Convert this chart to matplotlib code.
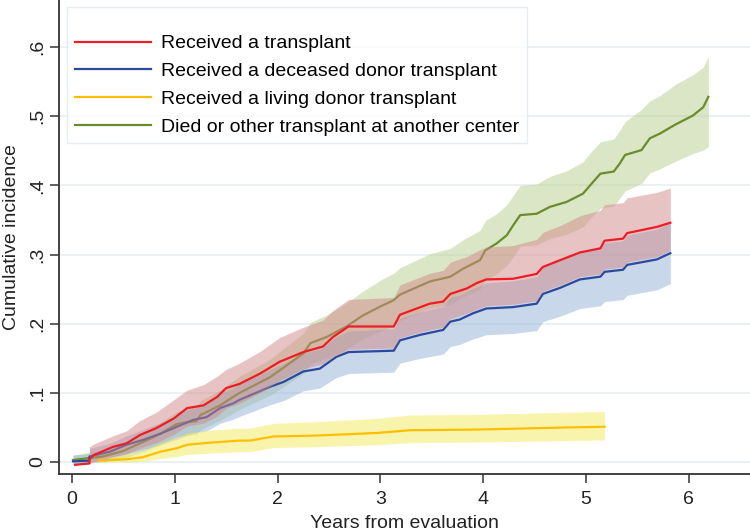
import matplotlib
matplotlib.use("Agg")
import matplotlib.pyplot as plt

# Cumulative incidence curves (years, proportion)
red_x = [0.03, 0.17, 0.17, 0.21, 0.40, 0.53, 0.66, 0.82, 0.99, 1.12, 1.28, 1.41, 1.50,
         1.63, 1.83, 2.02, 2.25, 2.44, 2.54, 2.69, 3.13, 3.19, 3.48, 3.61, 3.68, 3.84,
         3.94, 4.03, 4.29, 4.52, 4.58, 4.75, 4.94, 5.14, 5.18, 5.36, 5.40, 5.69, 5.82]
red_y = [-0.004, -0.002, 0.004, 0.010, 0.022, 0.027, 0.039, 0.049, 0.063, 0.078, 0.082,
         0.094, 0.107, 0.113, 0.128, 0.145, 0.159, 0.167, 0.181, 0.196, 0.196, 0.213,
         0.229, 0.232, 0.243, 0.251, 0.259, 0.264, 0.265, 0.272, 0.282, 0.292, 0.303,
         0.309, 0.320, 0.323, 0.331, 0.340, 0.346]
red_lo = [-0.004, -0.002, -0.002, 0.000, 0.008, 0.012, 0.020, 0.028, 0.040, 0.052, 0.056,
          0.066, 0.078, 0.085, 0.100, 0.118, 0.135, 0.142, 0.152, 0.163, 0.165, 0.180,
          0.191, 0.195, 0.207, 0.215, 0.221, 0.226, 0.228, 0.233, 0.247, 0.256, 0.268,
          0.272, 0.279, 0.282, 0.289, 0.297, 0.306]
red_hi = [-0.004, -0.002, 0.022, 0.026, 0.038, 0.045, 0.060, 0.072, 0.090, 0.104, 0.112,
          0.124, 0.134, 0.143, 0.160, 0.180, 0.195, 0.205, 0.219, 0.235, 0.238, 0.256,
          0.273, 0.277, 0.289, 0.297, 0.305, 0.311, 0.313, 0.322, 0.332, 0.342, 0.356,
          0.364, 0.372, 0.375, 0.382, 0.390, 0.396]

blue_x = [0.01, 0.17, 0.17, 0.37, 0.53, 0.69, 0.86, 1.02, 1.18, 1.31, 1.44, 1.57, 1.63,
          1.93, 2.06, 2.25, 2.41, 2.57, 2.69, 3.13, 3.19, 3.39, 3.61, 3.68, 3.77, 3.90,
          4.03, 4.29, 4.52, 4.58, 4.75, 4.94, 5.14, 5.18, 5.36, 5.40, 5.69, 5.82]
blue_y = [0.001, 0.002, 0.008, 0.015, 0.025, 0.032, 0.041, 0.051, 0.061, 0.065, 0.078,
          0.085, 0.090, 0.109, 0.116, 0.131, 0.135, 0.152, 0.159, 0.161, 0.176, 0.184,
          0.191, 0.203, 0.206, 0.215, 0.222, 0.224, 0.229, 0.243, 0.252, 0.264, 0.268,
          0.275, 0.278, 0.285, 0.293, 0.302]
blue_lo = [-0.003, -0.003, 0.000, 0.005, 0.012, 0.018, 0.025, 0.033, 0.042, 0.045, 0.056,
           0.062, 0.066, 0.083, 0.089, 0.103, 0.107, 0.122, 0.128, 0.130, 0.143, 0.150,
           0.156, 0.167, 0.170, 0.178, 0.184, 0.186, 0.190, 0.203, 0.211, 0.222, 0.226,
           0.232, 0.235, 0.241, 0.249, 0.258]
blue_hi = [0.010, 0.012, 0.020, 0.027, 0.038, 0.047, 0.057, 0.068, 0.080, 0.085, 0.099,
           0.107, 0.113, 0.134, 0.142, 0.158, 0.163, 0.181, 0.189, 0.193, 0.208, 0.217,
           0.225, 0.238, 0.241, 0.251, 0.259, 0.262, 0.268, 0.282, 0.292, 0.305, 0.310,
           0.317, 0.320, 0.328, 0.337, 0.346]

yel_x = [0.26, 0.53, 0.69, 0.86, 1.02, 1.12, 1.34, 1.63, 1.73, 1.96, 2.32, 2.96, 3.29,
         3.94, 4.81, 5.18]
yel_y = [0.002, 0.004, 0.007, 0.015, 0.020, 0.025, 0.028, 0.031, 0.031, 0.037, 0.038,
         0.042, 0.046, 0.047, 0.050, 0.051]
yel_lo = [0.000, 0.000, 0.001, 0.005, 0.008, 0.011, 0.013, 0.015, 0.015, 0.021, 0.022,
          0.025, 0.028, 0.029, 0.031, 0.032]
yel_hi = [0.006, 0.011, 0.016, 0.028, 0.036, 0.042, 0.046, 0.049, 0.049, 0.056, 0.058,
          0.063, 0.068, 0.069, 0.072, 0.073]

grn_x = [0.01, 0.30, 0.50, 0.69, 0.85, 0.95, 1.02, 1.13, 1.21, 1.25, 1.44, 1.63, 1.93,
         2.09, 2.25, 2.32, 2.48, 2.67, 2.83, 3.00, 3.13, 3.19, 3.48, 3.68, 3.81, 3.97,
         4.02, 4.13, 4.23, 4.29, 4.36, 4.52, 4.65, 4.81, 4.97, 5.04, 5.14, 5.27, 5.33,
         5.38, 5.54, 5.62, 5.72, 5.87, 6.04, 6.14, 6.19]
grn_y = [0.003, 0.008, 0.016, 0.029, 0.040, 0.049, 0.055, 0.058, 0.059, 0.068, 0.082,
         0.100, 0.123, 0.140, 0.157, 0.172, 0.181, 0.196, 0.212, 0.225, 0.234, 0.242,
         0.261, 0.268, 0.280, 0.292, 0.306, 0.316, 0.328, 0.342, 0.357, 0.359, 0.369,
         0.376, 0.388, 0.400, 0.417, 0.420, 0.432, 0.444, 0.451, 0.468, 0.475, 0.488,
         0.501, 0.513, 0.528]
grn_lo = [-0.003, 0.000, 0.005, 0.015, 0.024, 0.032, 0.037, 0.039, 0.040, 0.047, 0.060,
          0.076, 0.097, 0.112, 0.128, 0.142, 0.150, 0.163, 0.178, 0.189, 0.197, 0.204,
          0.222, 0.228, 0.239, 0.250, 0.263, 0.272, 0.284, 0.296, 0.312, 0.314, 0.323,
          0.329, 0.340, 0.352, 0.367, 0.370, 0.382, 0.392, 0.403, 0.418, 0.424, 0.435,
          0.446, 0.451, 0.456]
grn_hi = [0.010, 0.018, 0.028, 0.043, 0.056, 0.066, 0.073, 0.077, 0.079, 0.089, 0.104,
          0.124, 0.149, 0.168, 0.186, 0.202, 0.213, 0.230, 0.247, 0.263, 0.273, 0.281,
          0.301, 0.309, 0.322, 0.335, 0.349, 0.359, 0.372, 0.385, 0.400, 0.402, 0.413,
          0.421, 0.434, 0.447, 0.463, 0.467, 0.480, 0.492, 0.510, 0.522, 0.530, 0.546,
          0.560, 0.571, 0.586]

labels = ["Received a transplant",
          "Received a deceased donor transplant",
          "Received a living donor transplant",
          "Died or other transplant at another center"]
y_ticks = [0, 0.1, 0.2, 0.3, 0.4, 0.5, 0.6]
y_ticklabels = ["0", ".1", ".2", ".3", ".4", ".5", ".6"]
x_ticks = [0, 1, 2, 3, 4, 5, 6]

plt.rcParams["font.family"] = "Liberation Sans"

fig = plt.figure(figsize=(7.5, 5.31), dpi=100)
ax = fig.add_axes([0.0787, 0.1073, 0.9213, 0.8927])

for yv in y_ticks:
    ax.axhline(yv, color="#e8f0f3", lw=1.3, zorder=0)

# order matters: red band sits over the green and blue lines
ax.fill_between(grn_x, grn_lo, grn_hi, color="#b7cf8d", alpha=0.5, lw=0, zorder=1)
ax.plot(grn_x, grn_y, color="#6b8c2c", lw=1.6, zorder=2)
ax.fill_between(blue_x, blue_lo, blue_hi, color="#93b1d7", alpha=0.5, lw=0, zorder=1)
ax.plot(blue_x, blue_y, color="#2b4a9e", lw=1.6, zorder=2)
ax.fill_between(yel_x, yel_lo, yel_hi, color="#f3ea5a", alpha=0.5, lw=0, zorder=3)
ax.plot(yel_x, yel_y, color="#ffbf00", lw=1.6, zorder=4)
ax.fill_between(red_x, red_lo, red_hi, color="#d3898b", alpha=0.5, lw=0, zorder=3)
ax.plot(red_x, red_y, color="#ee1c25", lw=1.6, zorder=4)

handles = [plt.Line2D([], [], color=c, lw=1.6)
           for c in ["#ee1c25", "#2b4a9e", "#ffbf00", "#6b8c2c"]]
leg = ax.legend(handles, labels, title=" ", title_fontsize=7,
                loc="upper left", bbox_to_anchor=(67 / 750, 1 - 7 / 531),
                bbox_transform=fig.transFigure, fontsize=14.0, frameon=True,
                fancybox=False, handlelength=3.9, handletextpad=0.55,
                labelspacing=0.52, borderpad=0.4, borderaxespad=0)
leg.get_frame().set_edgecolor("#dde8ee")
leg.get_frame().set_linewidth(1.0)
leg.set_zorder(10)

ax.set_xlim(-0.126, 6.595)
ax.set_ylim(-0.0173, 0.668)
ax.set_xticks(x_ticks)
ax.set_yticks(y_ticks)
ax.set_yticklabels(y_ticklabels, rotation=90, va="center")
ax.tick_params(axis="both", labelsize=14, colors="#333333", length=6.5, width=1.1,
               labelcolor="#222222")
ax.tick_params(axis="y", pad=3)
ax.tick_params(axis="x", pad=6)
for s in ["top", "right"]:
    ax.spines[s].set_visible(False)
for s in ["left", "bottom"]:
    ax.spines[s].set_color("#333333")
    ax.spines[s].set_linewidth(1.3)

ax.set_xlabel("Years from evaluation", fontsize=14, color="#222222", labelpad=5)
ax.set_ylabel("Cumulative incidence", fontsize=14, color="#222222", labelpad=6)

fig.savefig("out.png", dpi=100)
